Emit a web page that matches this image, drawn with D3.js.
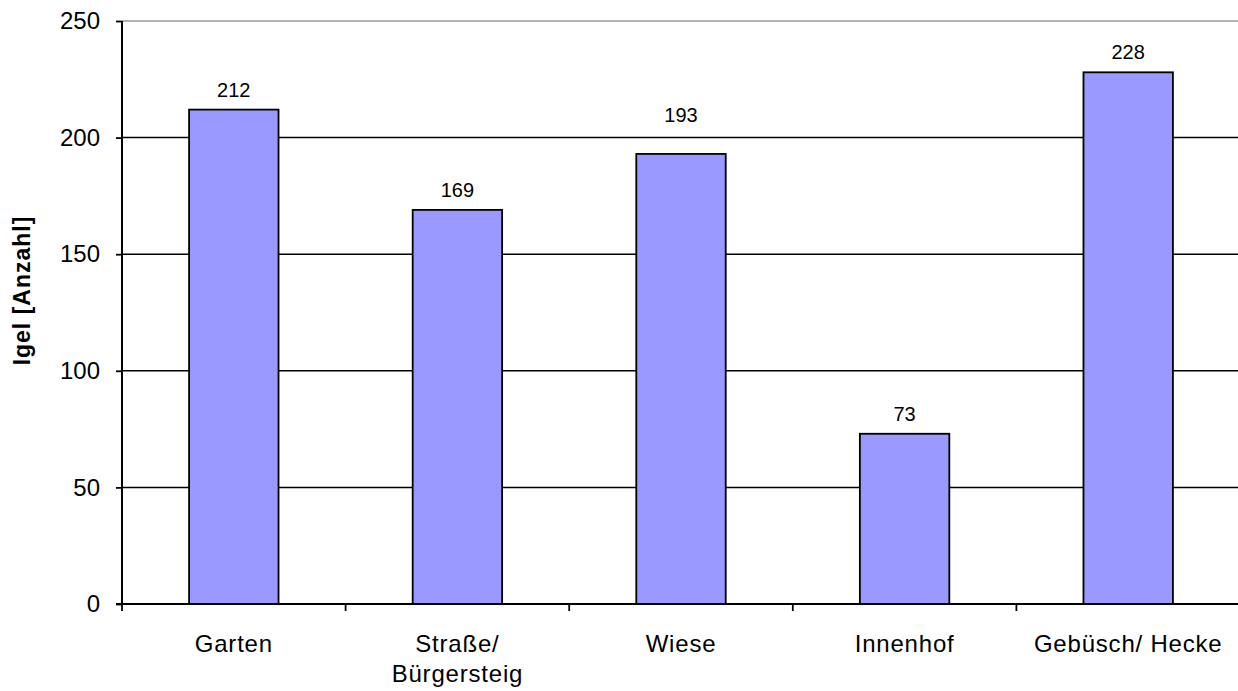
<!DOCTYPE html>
<html>
<head>
<meta charset="utf-8">
<script src="https://cdn.jsdelivr.net/npm/d3@7"></script>
<style>
  html, body { margin: 0; padding: 0; background: #fff; }
  svg { display: block; font-family: "Liberation Sans", Arial, sans-serif; }
</style>
</head>
<body>
<svg id="chart" width="1238" height="691"></svg>
<script>
// Fundorte der Igel
const categories = [["Garten"], ["Straße/", "Bürgersteig"], ["Wiese"], ["Innenhof"], ["Gebüsch/ Hecke"]];
const values = [212, 169, 193, 73, 228];
const yTicks = [0, 50, 100, 150, 200, 250];
const yTitle = "Igel [Anzahl]";

const svg = d3.select("#chart");
const margin = { left: 122, top: 21, bottom: 87 };
const plotRight = 1240;
const height = 691;

const x = d3.scaleBand()
  .domain(d3.range(categories.length))
  .range([margin.left, plotRight])
  .padding(0);

const y = d3.scaleLinear()
  .domain([0, 250])
  .range([height - margin.bottom, margin.top]);

// Gridlines
svg.append("g")
  .selectAll("line")
  .data(yTicks.filter(d => d > 0))
  .join("line")
  .attr("x1", margin.left)
  .attr("x2", plotRight)
  .attr("y1", d => y(d))
  .attr("y2", d => y(d))
  .attr("stroke", d => d === 250 ? "#999" : "#000")
  .attr("stroke-width", 1.5);

// Bars
const barFrac = 0.4;
svg.append("g")
  .selectAll("rect")
  .data(values)
  .join("rect")
  .attr("x", (d, i) => x(i) + x.bandwidth() * (1 - barFrac) / 2)
  .attr("width", x.bandwidth() * barFrac)
  .attr("y", d => y(d))
  .attr("height", d => y(0) - y(d))
  .attr("fill", "#9999FF")
  .attr("stroke", "#000")
  .attr("stroke-width", 1.8);

// Value labels: sit just above the bar, but move above a gridline they would cross
const labelGap = 13, labelHeight = 16;
function labelBaseline(v) {
  let base = y(v) - labelGap;
  const hit = yTicks.filter(t => t > 0).map(y)
    .find(gy => gy > base - labelHeight - 2 && gy < base + 4);
  if (hit !== undefined) base = hit - labelGap - 3;
  return base;
}
svg.append("g")
  .selectAll("text")
  .data(values)
  .join("text")
  .attr("x", (d, i) => x(i) + x.bandwidth() / 2)
  .attr("y", d => labelBaseline(d))
  .attr("text-anchor", "middle")
  .attr("font-size", 20)
  .attr("fill", "#000")
  .text(d => d);

// Y axis
const yAxis = d3.axisLeft(y).tickValues(yTicks).tickSize(6).tickPadding(16);
const gy = svg.append("g")
  .attr("transform", `translate(${margin.left},0)`)
  .call(yAxis);
gy.select(".domain").attr("stroke-width", 2).attr("d", `M0,${y(250)}V${y(0)}`);
gy.selectAll(".tick line").attr("stroke-width", 1.8);
gy.selectAll(".tick text").attr("font-size", 24).attr("fill", "#000");

// X axis: ticks at category boundaries
const gx = svg.append("g").attr("transform", `translate(0,${y(0)})`);
gx.append("line")
  .attr("x1", margin.left - 6).attr("x2", plotRight)
  .attr("stroke", "#000").attr("stroke-width", 2);
gx.selectAll(".xt")
  .data(d3.range(categories.length))
  .join("line")
  .attr("class", "xt")
  .attr("x1", i => x(i)).attr("x2", i => x(i))
  .attr("y1", 0).attr("y2", 7)
  .attr("stroke", "#000").attr("stroke-width", 1.8);

const labels = gx.selectAll(".xl")
  .data(categories)
  .join("text")
  .attr("class", "xl")
  .attr("text-anchor", "middle")
  .attr("font-size", 24)
  .attr("letter-spacing", 0.8)
  .attr("fill", "#000")
  .attr("transform", (d, i) => `translate(${x(i) + x.bandwidth() / 2},48)`);
labels.selectAll("tspan")
  .data(d => d)
  .join("tspan")
  .attr("x", 0)
  .attr("dy", (d, j) => j === 0 ? 0 : 30)
  .text(d => d);

// Y title
svg.append("text")
  .attr("transform", `translate(30,${(y(0) + y(250)) / 2 - 22}) rotate(-90)`)
  .attr("text-anchor", "middle")
  .attr("font-size", 23)
  .attr("font-weight", "bold")
  .attr("letter-spacing", 1)
  .attr("fill", "#000")
  .text(yTitle);
</script>
</body>
</html>
